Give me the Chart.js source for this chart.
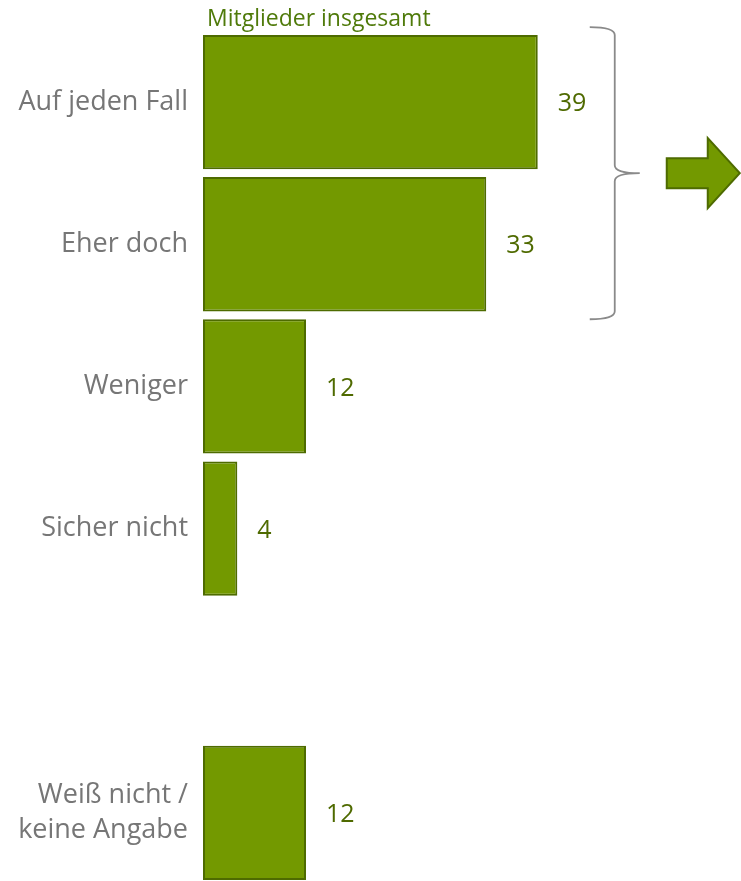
<!DOCTYPE html>
<html>
<head>
<meta charset="utf-8">
<script src="https://cdn.jsdelivr.net/npm/chart.js@4/dist/chart.umd.min.js"></script>
<style>
  html, body { margin: 0; padding: 0; background: #fff; overflow: hidden; }
  .chart-container { position: absolute; left: 0; top: 0; width: 741px; height: 884px; }
</style>
</head>
<body>
<div class="chart-container">
  <canvas id="bars"></canvas>
</div>
<script>
const categories = ['Auf jeden Fall', 'Eher doch', 'Weniger', 'Sicher nicht', '', ['Weiß nicht /', 'keine Angabe']];
const values = [39, 33, 12, 4, null, 12];
const seriesName = 'Mitglieder insgesamt';

const barFill = '#739900';
const barEdge = '#4e6b00';
const labelFont = '"Open Sans", sans-serif';

// value labels, series name, brace over the first two rows and the arrow
const extras = {
    id: 'extras',
    afterDatasetsDraw(chart) {
        const ctx = chart.ctx;
        const x = chart.scales.x;
        const y = chart.scales.y;
        const area = chart.chartArea;

        ctx.save();
        ctx.font = '25px ' + labelFont;
        ctx.fillStyle = '#4f6a00';
        ctx.textAlign = 'left';
        ctx.textBaseline = 'middle';
        values.forEach((v, i) => {
            if (v === null) return;
            ctx.fillText(String(v), x.getPixelForValue(v) + 20, y.getPixelForValue(i) + 2);
        });

        ctx.font = '23px ' + labelFont;
        ctx.fillStyle = '#4f7a0a';
        ctx.textBaseline = 'alphabetic';
        ctx.fillText(seriesName, area.left + 4, 26);

        // brace
        const top = y.getPixelForValue(0) - 75;
        const bottom = y.getPixelForValue(1) + 75;
        const mid = (y.getPixelForValue(0) + y.getPixelForValue(1)) / 2;
        const bx = x.getPixelForValue(39) + 52;
        ctx.strokeStyle = '#8a8a8a';
        ctx.lineWidth = 1.8;
        ctx.beginPath();
        ctx.moveTo(bx, top);
        ctx.quadraticCurveTo(bx + 25, top, bx + 25, top + 8);
        ctx.lineTo(bx + 25, mid - 8);
        ctx.quadraticCurveTo(bx + 25, mid, bx + 50, mid);
        ctx.quadraticCurveTo(bx + 25, mid, bx + 25, mid + 8);
        ctx.lineTo(bx + 25, bottom - 8);
        ctx.quadraticCurveTo(bx + 25, bottom, bx, bottom);
        ctx.stroke();

        // arrow
        const ax = bx + 77;
        ctx.fillStyle = barFill;
        ctx.strokeStyle = barEdge;
        ctx.lineWidth = 2;
        ctx.beginPath();
        ctx.moveTo(ax, mid - 15);
        ctx.lineTo(ax + 41, mid - 15);
        ctx.lineTo(ax + 41, mid - 35);
        ctx.lineTo(ax + 73, mid);
        ctx.lineTo(ax + 41, mid + 35);
        ctx.lineTo(ax + 41, mid + 15);
        ctx.lineTo(ax, mid + 15);
        ctx.closePath();
        ctx.fill();
        ctx.stroke();
        ctx.restore();
    }
};

new Chart(document.getElementById('bars'), {
    type: 'bar',
    data: {
        labels: categories,
        datasets: [{
            label: seriesName,
            data: values,
            backgroundColor: barFill,
            borderColor: barEdge,
            borderWidth: 2,
            borderSkipped: false,
            categoryPercentage: 1,
            barPercentage: 0.945
        }]
    },
    options: {
        indexAxis: 'y',
        responsive: true,
        maintainAspectRatio: false,
        animation: false,
        layout: { padding: { top: 31, right: 23, bottom: 0, left: 0 } },
        scales: {
            x: {
                display: false,
                min: 0,
                max: 60
            },
            y: {
                afterFit: (scale) => {
                    scale.width = 203;
                    scale.paddingTop = 0;
                    scale.paddingBottom = 0;
                },
                grid: { display: false, drawTicks: false },
                border: { display: false },
                ticks: {
                    padding: 15,
                    color: '#767676',
                    font: { family: labelFont, size: 27, lineHeight: 1.3 }
                }
            }
        },
        plugins: {
            legend: { display: false },
            tooltip: { enabled: false }
        }
    },
    plugins: [extras]
});
</script>
</body>
</html>
